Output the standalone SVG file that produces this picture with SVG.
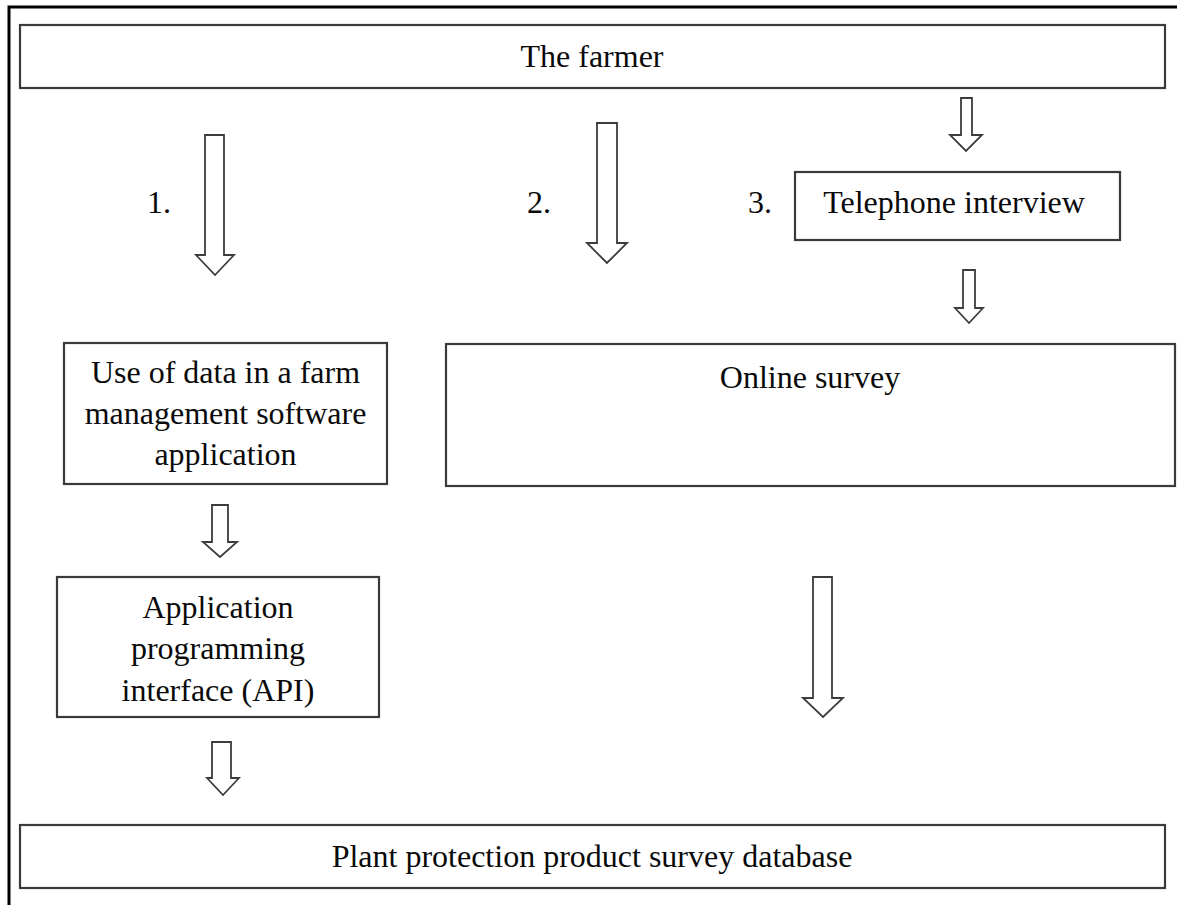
<svg xmlns="http://www.w3.org/2000/svg" width="1177" height="905" viewBox="0 0 1177 905">
  <style>
    .box { fill: #ffffff; stroke: #3a3a3a; stroke-width: 2.2; }
    .frame { fill: none; stroke: #000000; stroke-width: 3; }
    .arrow { fill: #ffffff; stroke: #3c3c3c; stroke-width: 1.8; stroke-linejoin: miter; }
    text { font-family: "Liberation Serif", "Times New Roman", serif; font-size: 32px; fill: #0a0a0a; }
    .label { text-anchor: middle; }
    .num { text-anchor: start; }
  </style>
  <rect x="0" y="0" width="1177" height="905" fill="#ffffff"/>
  <!-- outer frame (top and left edges visible) -->
  <path class="frame" d="M9,905 L9,7 L1177,7"/>

  <g id="farmer">
    <rect class="box" x="20" y="25" width="1145" height="63"/>
    <text class="label" x="592" y="67">The farmer</text>
  </g>

  <g id="telephone">
    <rect class="box" x="795" y="172" width="325" height="68"/>
    <text class="label" x="954" y="213">Telephone interview</text>
  </g>

  <g id="farm-software">
    <rect class="box" x="64" y="343" width="323" height="141"/>
    <text class="label" x="225.5" y="383">Use of data in a farm</text>
    <text class="label" x="225.5" y="424">management software</text>
    <text class="label" x="225.5" y="465">application</text>
  </g>

  <g id="online-survey">
    <rect class="box" x="446" y="344" width="729" height="142"/>
    <text class="label" x="810" y="388">Online survey</text>
  </g>

  <g id="api">
    <rect class="box" x="57" y="577" width="322" height="140"/>
    <text class="label" x="218" y="618">Application</text>
    <text class="label" x="218" y="659">programming</text>
    <text class="label" x="218" y="701">interface (API)</text>
  </g>

  <g id="database">
    <rect class="box" x="20" y="825" width="1145" height="63"/>
    <text class="label" x="592" y="867">Plant protection product survey database</text>
  </g>

  <g id="labels">
    <text class="num" x="147" y="213">1.</text>
    <text class="num" x="527" y="213">2.</text>
    <text class="num" x="748" y="213">3.</text>
  </g>

  <!-- block arrows -->
  <g id="connectors">
    <path class="arrow" d="M205,135 L224,135 L224,255 L234,255 L215,275 L196,255 L205,255 Z"/>
    <path class="arrow" d="M597,123 L617,123 L617,243 L627,243 L607,263 L587,243 L597,243 Z"/>
    <path class="arrow" d="M961,98 L972,98 L972,135 L982,135 L966,151 L950,135 L961,135 Z"/>
    <path class="arrow" d="M963,270 L975,270 L975,308 L983,308 L969,323 L955,308 L963,308 Z"/>
    <path class="arrow" d="M212,505 L228,505 L228,542 L237,542 L220,557 L203,542 L212,542 Z"/>
    <path class="arrow" d="M813,577 L832,577 L832,698 L843,698 L823,717 L803,698 L813,698 Z"/>
    <path class="arrow" d="M212,742 L231,742 L231,778 L239,778 L223,795 L207,778 L212,778 Z"/>
  </g>
</svg>
